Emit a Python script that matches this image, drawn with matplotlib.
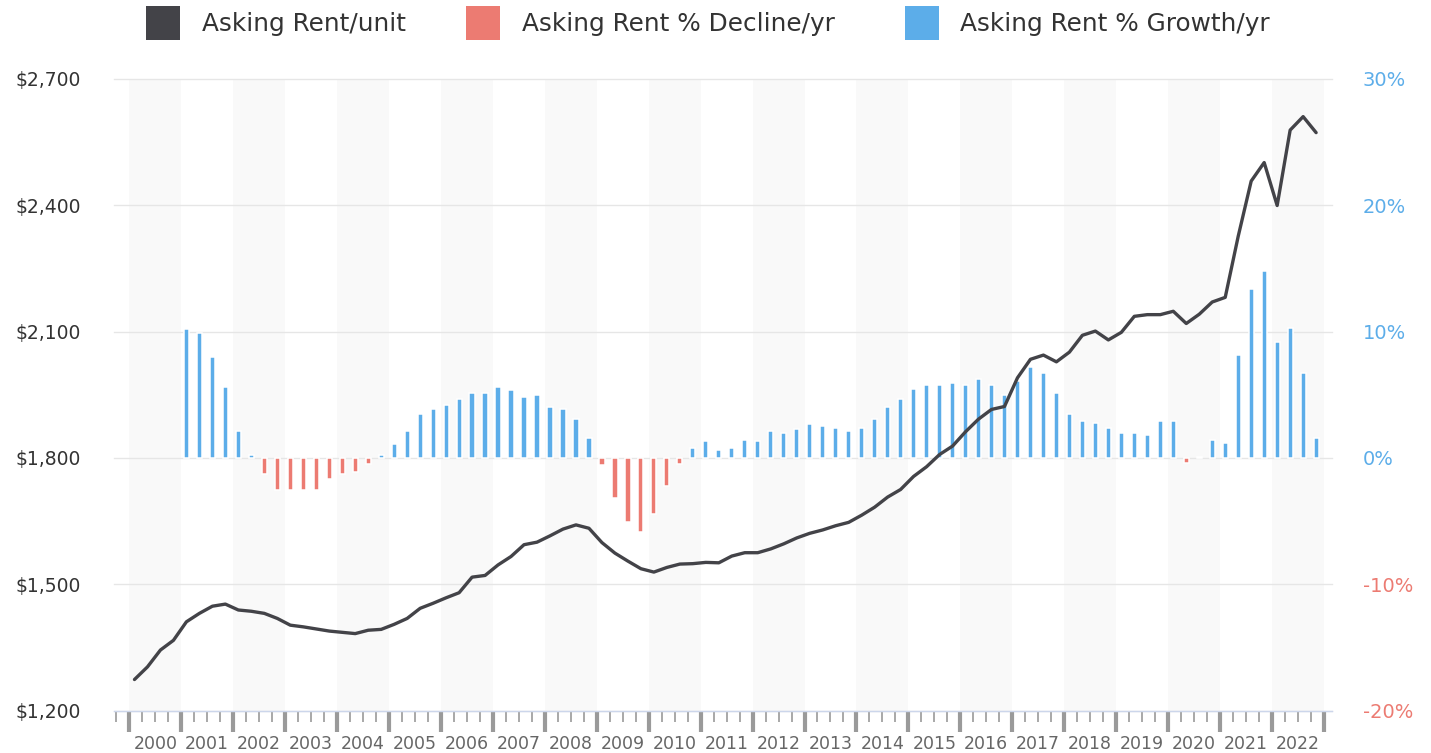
import matplotlib
matplotlib.use("Agg")
import matplotlib.pyplot as plt
from matplotlib.patches import Rectangle
import numpy as np

plt.rcParams.update({"font.family": "DejaVu Sans"})

BLUE = "#5CADE9"
RED = "#EC7B72"
DARK = "#434348"
GRID = "#E6E6E6"
BAND = "#F9F9F9"
AXIS = "#CCD6EB"
TICK = "#9A9A9A"

# quarterly asking rent per unit, 2000 Q1 .. 2022 Q4
rent_per_unit = [
    1274, 1304, 1344, 1367,   # 2000
    1411, 1431, 1448, 1453,   # 2001
    1439, 1436, 1431, 1419,   # 2002
    1403, 1399, 1394, 1389,   # 2003
    1386, 1383, 1391, 1393,   # 2004
    1405, 1419, 1443, 1455,   # 2005
    1468, 1480, 1517, 1521,   # 2006
    1546, 1566, 1594, 1600,   # 2007
    1615, 1631, 1641, 1633,   # 2008
    1599, 1574, 1555, 1537,   # 2009
    1529, 1540, 1548, 1549,   # 2010
    1552, 1551, 1567, 1575,   # 2011
    1575, 1584, 1596, 1610,   # 2012
    1621, 1629, 1639, 1647,   # 2013
    1664, 1683, 1707, 1725,   # 2014
    1756, 1779, 1808, 1828,   # 2015
    1862, 1892, 1915, 1922,   # 2016
    1990, 2034, 2044, 2028,   # 2017
    2051, 2091, 2101, 2080,   # 2018
    2098, 2136, 2140, 2140,   # 2019
    2148, 2119, 2141, 2170,   # 2020
    2181, 2326, 2457, 2501,   # 2021
    2399, 2578, 2610, 2572,   # 2022
]

# year-over-year asking rent change (%), 2001 Q1 .. 2022 Q4
rent_growth_pct = [
    10.2, 9.9, 8.0, 5.6,      # 2001
    2.1, 0.2, -1.25, -2.5,    # 2002
    -2.5, -2.5, -2.5, -1.7,   # 2003
    -1.25, -1.1, -0.45, 0.2,  # 2004
    1.1, 2.1, 3.5, 3.85,      # 2005
    4.2, 4.65, 5.1, 5.1,      # 2006
    5.6, 5.4, 4.8, 4.95,      # 2007
    4.0, 3.85, 3.05, 1.6,     # 2008
    -0.6, -3.15, -5.05, -5.85,  # 2009
    -4.4, -2.2, -0.45, 0.8,   # 2010
    1.3, 0.65, 0.8, 1.45,     # 2011
    1.3, 2.1, 1.95, 2.25,     # 2012
    2.7, 2.55, 2.4, 2.1,      # 2013
    2.4, 3.05, 4.0, 4.65,     # 2014
    5.45, 5.75, 5.75, 5.9,    # 2015
    5.75, 6.25, 5.75, 4.95,   # 2016
    6.05, 7.2, 6.7, 5.1,      # 2017
    3.5, 2.9, 2.75, 2.4,      # 2018
    1.95, 1.95, 1.8, 2.9,     # 2019
    2.9, -0.4, 0.05, 1.45,    # 2020
    1.15, 8.15, 13.4, 14.8,   # 2021
    9.2, 10.3, 6.7, 1.6,      # 2022
]

years = list(range(2000, 2023))
rent_ticks = [1200, 1500, 1800, 2100, 2400, 2700]
pct_ticks = [-20, -10, 0, 10, 20, 30]
legend_labels = ["Asking Rent/unit", "Asking Rent % Decline/yr", "Asking Rent % Growth/yr"]

W, H = 1431, 753
fig = plt.figure(figsize=(W / 100, H / 100), dpi=100)
left_px, right_px, top_px, bot_px = 113.7, 1331.7, 78.7, 710.7
ax = fig.add_axes([left_px / W, 1 - bot_px / H, (right_px - left_px) / W, (bot_px - top_px) / H])

# quarterly x positions (data sit a little past each quarter start)
x_rent = 2000 + np.arange(len(rent_per_unit)) * 0.25 + 0.1
x_growth = 2001 + np.arange(len(rent_growth_pct)) * 0.25 + 0.1

# alternating year bands and grid
for y in years[::2]:
    ax.axvspan(y, y + 1, color=BAND, lw=0, zorder=0)
for t in pct_ticks:
    ax.axhline(t, color=GRID, lw=1.0, zorder=0.5, clip_on=False)

bar_colors = [BLUE if v >= 0 else RED for v in rent_growth_pct]
ax.bar(x_growth, rent_growth_pct, width=0.1, color=bar_colors, edgecolor="white",
       linewidth=1.1, zorder=2)

ax.set_xlim(1999.70, 2023.15)
ax.set_ylim(-20, 30)
for side in ["top", "left", "right"]:
    ax.spines[side].set_visible(False)
ax.spines["bottom"].set_color(AXIS)
ax.spines["bottom"].set_linewidth(1.0)
ax.spines["bottom"].set_zorder(3)

# x axis: big ticks at year boundaries, small ticks at quarters, year labels mid-year
ax.set_xticks(years + [2023])
ax.set_xticklabels([""] * (len(years) + 1))
quarters = [1999.75] + [y + q for y in years for q in (0.25, 0.5, 0.75)]
ax.set_xticks(quarters, minor=True)
ax.set_xticklabels([str(int(q)) if abs(q % 1 - 0.5) < 1e-6 else "" for q in quarters], minor=True)
ax.tick_params(axis="x", which="major", length=15, width=3, color=TICK)
ax.tick_params(axis="x", which="minor", length=7.7, width=1.2, color=TICK, pad=10,
               labelsize=12.5, labelcolor="#666666")

# line on the dollar axis (drawn above the bars)
ax2 = ax.twinx()
ax.yaxis.tick_right()
ax2.yaxis.tick_left()
ax2.plot(x_rent, rent_per_unit, color=DARK, lw=2.4, solid_joinstyle="round",
         solid_capstyle="round", zorder=3)
ax2.set_ylim(1200, 2700)
ax2.set_yticks(rent_ticks)
ax2.set_yticklabels([f"${v:,}" for v in rent_ticks])
ax2.tick_params(axis="y", length=0, pad=23.5, labelsize=13.5, labelcolor="#333333")
for side in ax2.spines:
    ax2.spines[side].set_visible(False)

ax.set_yticks(pct_ticks)
ax.set_yticklabels([f"{v}%" for v in pct_ticks])
ax.tick_params(axis="y", length=0, pad=22.5, labelsize=14)
for lbl, v in zip(ax.get_yticklabels(), pct_ticks):
    lbl.set_color(BLUE if v >= 0 else RED)

# legend across the top
legend_colors = [DARK, RED, BLUE]
square_x = [146, 466, 905]
text_x = [202, 522, 960]
for lab, col, sx, tx in zip(legend_labels, legend_colors, square_x, text_x):
    fig.add_artist(Rectangle((sx / W, 1 - 40 / H), 34 / W, 34 / H,
                             transform=fig.transFigure, color=col, lw=0))
    fig.text(tx / W, 1 - 30.7 / H, lab, fontsize=17.8, color="#333333", va="baseline")

fig.savefig("out.png", dpi=100)
